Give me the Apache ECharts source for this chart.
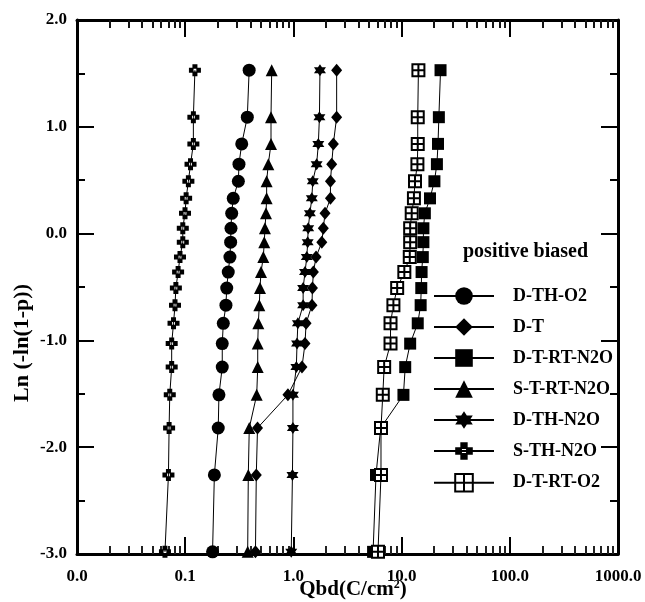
<!DOCTYPE html>
<html>
<head>
<meta charset="utf-8">
<script src="https://cdn.jsdelivr.net/npm/echarts@6/dist/echarts.min.js"></script>
<style>
  html, body { margin: 0; padding: 0; background: #fff; }
  #chart { width: 645px; height: 602px; }
</style>
</head>
<body>
<div id="chart"></div>
<script>
// Weibull plotting positions, shared by every sample (top to bottom)
const yPos = [1.53, 1.09, 0.84, 0.65, 0.49, 0.33, 0.19, 0.05, -0.08, -0.22,
  -0.36, -0.51, -0.67, -0.84, -1.03, -1.25, -1.51, -1.82, -2.26, -2.98]

// Qbd (C/cm2), same order as yPos
const dTHO2 = [0.39, 0.375, 0.333, 0.314, 0.31, 0.278, 0.269, 0.265, 0.263, 0.259,
  0.25, 0.242, 0.238, 0.225, 0.22, 0.22, 0.205, 0.202, 0.186, 0.179]
const dT = [2.51, 2.51, 2.34, 2.26, 2.2, 2.2, 1.96, 1.89, 1.83, 1.62,
  1.53, 1.5, 1.485, 1.31, 1.28, 1.2, 0.89, 0.466, 0.454, 0.446]
const dTRTN2O = [22.9, 22.1, 21.7, 21.2, 20.1, 18.3, 16.4, 15.9, 15.9, 15.7,
  15.3, 15.2, 15.0, 14.1, 12.0, 10.8, 10.4, 6.4, 5.8, 5.45]
const sTRTN2O = [0.63, 0.621, 0.621, 0.586, 0.566, 0.566, 0.558, 0.546, 0.538, 0.527,
  0.502, 0.491, 0.484, 0.474, 0.468, 0.468, 0.458, 0.391, 0.383, 0.378]
const dTHN2O = [1.76, 1.74, 1.7, 1.64, 1.51, 1.48, 1.42, 1.37, 1.355, 1.33,
  1.28, 1.23, 1.23, 1.1, 1.08, 1.065, 0.99, 0.99, 0.98, 0.955]
const sTHN2O = [0.123, 0.119, 0.119, 0.112, 0.107, 0.102, 0.0996, 0.095, 0.095, 0.0895,
  0.086, 0.082, 0.0805, 0.078, 0.075, 0.075, 0.072, 0.071, 0.07, 0.065]
const dTRTO2 = [14.3, 14.1, 14.1, 14.0, 13.3, 13.0, 12.4, 12.0, 12.0, 11.9,
  10.6, 9.1, 8.4, 7.9, 7.9, 6.9, 6.7, 6.45, 6.45, 6.05]

const xTicks = [0.01, 0.1, 1, 10, 100, 1000]
const yTicks = [-3, -2, -1, 0, 1, 2]

// minor ticks 2..9 in every decade
const xMinor = []
xTicks.slice(0, -1).forEach(d => {
  for (let k = 2; k <= 9; k++) xMinor.push(+(d * k).toPrecision(3))
})

const font = 'Liberation Serif'
const starPath = 'path://M6,0L11.2,9L0.8,9Z M6,12L0.8,3L11.2,3Z'
const plusPath = 'path://M3.5,0H8.5V3.5H12V8.5H8.5V12H3.5V8.5H0V3.5H3.5Z M4.6,4.6V7.4H7.4V4.6Z'
const boxPath = 'path://M0,0H12V12H0Z M6,0V12 M0,6H12'

function pairs (xs) {
  return xs.map((x, i) => [x, yPos[i]])
}

function mkSeries (name, xs, symbol, size, itemStyle) {
  return {
    name: name,
    type: 'line',
    xAxisIndex: 0,
    yAxisIndex: 0,
    data: pairs(xs),
    symbol: symbol,
    symbolSize: size,
    showSymbol: true,
    showAllSymbol: true,
    lineStyle: { color: '#000', width: 1 },
    itemStyle: itemStyle || { color: '#000' },
    emphasis: { disabled: true }
  }
}

const labelStyle = {
  color: '#000',
  fontFamily: font,
  fontWeight: 'bold',
  fontSize: 17
}

function box () {
  return { left: 77, right: 27, top: 20, bottom: 48, outerBoundsMode: 'none', containLabel: false }
}

// x tick colour written a different way on each axis (plain '#000' did not draw)
function logAxis (grid, pos, major, tickColor) {
  return {
    gridIndex: grid,
    type: 'log',
    logBase: 10,
    min: 0.01,
    max: 1000,
    position: pos,
    axisLine: { show: major, onZero: false, lineStyle: { color: '#000', width: 3 } },
    axisTick: major
      ? { show: true, inside: true, length: 17, lineStyle: { color: tickColor, width: 2 } }
      : { show: true, inside: true, length: 8, customValues: xMinor, lineStyle: { color: tickColor, width: 2 } },
    axisLabel: pos === 'bottom' && major
      ? Object.assign({ margin: 14, formatter: v => (+v).toFixed(1) }, labelStyle)
      : { show: false },
    splitLine: { show: false }
  }
}

function valAxis (grid, pos, shown) {
  return {
    gridIndex: grid,
    type: 'value',
    show: shown,
    min: yTicks[0],
    max: yTicks[yTicks.length - 1],
    interval: 1,
    position: pos,
    axisLine: { show: true, onZero: false, lineStyle: { color: '#000', width: 3 } },
    axisTick: { show: true, inside: true, length: 17, lineStyle: { color: '#000', width: 2 } },
    minorTick: { show: true, splitNumber: 2, length: 8, lineStyle: { color: '#000', width: 2 } },
    axisLabel: pos === 'left'
      ? Object.assign({ margin: 10, formatter: v => v.toFixed(1) }, labelStyle)
      : { show: false },
    splitLine: { show: false },
    minorSplitLine: { show: false }
  }
}

const myChart = echarts.init(document.getElementById('chart'))
myChart.setOption({
  animation: false,
  backgroundColor: '#fff',
  grid: [box(), box(), box()],
  xAxis: [
    logAxis(0, 'bottom', true, 'black'),
    logAxis(1, 'top', true, 'rgb(0,0,0)'),
    logAxis(1, 'bottom', false, '#222'),
    logAxis(2, 'top', false, 'rgba(20,20,20,1)')
  ],
  yAxis: [valAxis(0, 'left', true), valAxis(1, 'right', true), valAxis(2, 'left', false)],
  legend: {
    orient: 'vertical',
    left: 428,
    top: 282,
    itemWidth: 60,
    itemHeight: 22,
    itemGap: 13,
    selectedMode: false,
    textStyle: {
      color: '#000',
      fontFamily: font,
      fontWeight: 'bold',
      fontSize: 18,
      padding: [0, 0, 0, 14]
    },
    data: ['D-TH-O2', 'D-T', 'D-T-RT-N2O', 'S-T-RT-N2O', 'D-TH-N2O', 'S-TH-N2O', 'D-T-RT-O2']
  },
  graphic: [
    {
      type: 'text',
      x: 22,
      y: 343,
      rotation: Math.PI / 2,
      style: {
        text: 'Ln (-ln(1-p))',
        fill: '#000',
        font: 'bold 22px "Liberation Serif"',
        textAlign: 'center',
        textVerticalAlign: 'middle'
      }
    },
    {
      type: 'text',
      x: 353,
      y: 590,
      style: {
        text: 'Qbd(C/cm{sup|2})',
        fill: '#000',
        font: 'bold 21px "Liberation Serif"',
        textAlign: 'center',
        textVerticalAlign: 'middle',
        rich: {
          sup: { font: 'bold 12px "Liberation Serif"', fill: '#000', verticalAlign: 'top', padding: [0, 0, 10, 0] }
        }
      }
    },
    {
      type: 'text',
      x: 463,
      y: 252,
      style: {
        text: 'positive biased',
        fill: '#000',
        font: 'bold 20px "Liberation Serif"',
        textAlign: 'left',
        textVerticalAlign: 'middle'
      }
    }
  ],
  series: [
    mkSeries('D-TH-O2', dTHO2, 'circle', 13),
    mkSeries('D-T', dT, 'diamond', [11, 13]),
    mkSeries('D-T-RT-N2O', dTRTN2O, 'rect', 12),
    mkSeries('S-T-RT-N2O', sTRTN2O, 'triangle', 12),
    mkSeries('D-TH-N2O', dTHN2O, starPath, 12),
    mkSeries('S-TH-N2O', sTHN2O, plusPath, 12),
    mkSeries('D-T-RT-O2', dTRTO2, boxPath, 12, { color: '#fff', borderColor: '#000', borderWidth: 2 })
  ]
})
</script>
</body>
</html>
